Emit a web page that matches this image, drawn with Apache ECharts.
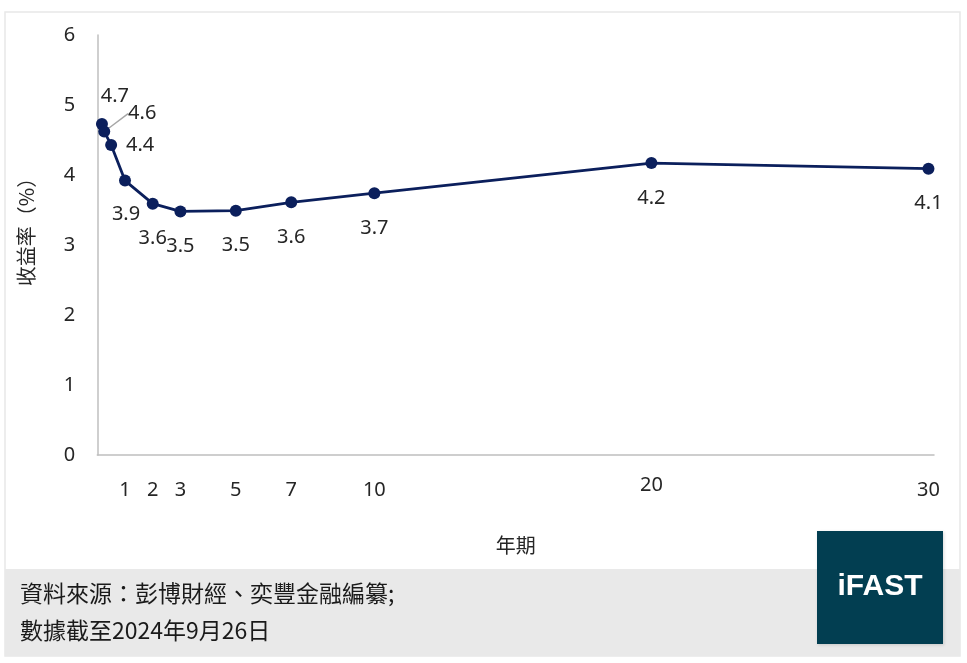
<!DOCTYPE html>
<html>
<head>
<meta charset="utf-8">
<script src="https://cdn.jsdelivr.net/npm/echarts@6/dist/echarts.min.js"></script>
<style>
html,body{margin:0;padding:0;background:#fff;}
#c{width:967px;height:663px;}
</style>
</head>
<body>
<div id="c"></div>
<script>
// Data
const tenors = [0.167, 0.25, 0.5, 1, 2, 3, 5, 7, 10, 20, 30];
const yields = [4.73, 4.62, 4.43, 3.92, 3.59, 3.48, 3.49, 3.61, 3.74, 4.17, 4.09];
const xTickLabels = [1, 2, 3, 5, 7, 10, 20, 30];
const yTicks = [0, 1, 2, 3, 4, 5, 6];
const yAxisTitle = '收益率（%）';
const xAxisTitle = '年期';
const footnote1 = '資料來源：彭博財經、奕豐金融編纂;';
const footnote2 = '數據截至2024年9月26日';
const logoText = 'iFAST';

const FONT = "'Noto Sans', 'Noto Sans CJK TC', sans-serif";
const CJK = "'Noto Sans CJK TC', 'Noto Sans', sans-serif";

// label offsets relative to each marker centre (style only)
const labelOffsets = [[13,-28],[38,-18],[29,0],[1,34],[0,35],[0,35],[0,35],[0,35],[0,35],[0,35],[0,35]];

const seriesData = tenors.map((t, i) => (
  i === 1 ? { value: [t, yields[i]], labelLine: { show: true } } : { value: [t, yields[i]] }
));

const chart = echarts.init(document.getElementById('c'));
chart.setOption({
  animation: false,
  backgroundColor: '#fff',
  grid: { left: 97.3, right: 33, top: 35, bottom: 208, containLabel: false },
  xAxis: {
    type: 'value', min: 0, max: 30.2,
    name: xAxisTitle, nameLocation: 'middle', nameGap: 80,
    nameTextStyle: { fontFamily: CJK, fontSize: 20, color: '#262626' },
    axisLine: { show: true, lineStyle: { color: '#bfbfbf', width: 1.5 } },
    axisTick: { show: false },
    splitLine: { show: false },
    axisLabel: {
      customValues: xTickLabels,
      margin: 20, fontFamily: FONT, fontSize: 20, color: '#262626',
      formatter: v => (v === 20 ? '{hi|' + v + '}' : '{n|' + v + '}'),
      rich: {
        n: { lineHeight: 30, fontFamily: FONT, fontSize: 20, color: '#262626' },
        hi: { lineHeight: 20, fontFamily: FONT, fontSize: 20, color: '#262626' }
      }
    }
  },
  yAxis: {
    type: 'value', min: 0, max: 6, interval: 1,
    name: yAxisTitle, nameLocation: 'middle', nameGap: 61, nameRotate: 90,
    nameTextStyle: { fontFamily: CJK, fontSize: 20, color: '#262626', padding: [0, 0, 0, 36] },
    axisLine: { show: true, lineStyle: { color: '#bfbfbf', width: 1.5 } },
    axisTick: { show: false },
    splitLine: { show: false },
    axisLabel: { margin: 22, fontFamily: FONT, fontSize: 20, color: '#262626' }
  },
  series: [{
    type: 'line',
    data: seriesData,
    symbol: 'circle', symbolSize: 12,
    itemStyle: { color: '#0b1f5c' },
    lineStyle: { color: '#0b1f5c', width: 2.8 },
    label: {
      show: true, position: 'inside', color: '#262626',
      fontFamily: FONT, fontSize: 20,
      formatter: p => p.value[1].toFixed(1)
    },
    labelLine: { show: false, lineStyle: { color: '#a6a6a6', width: 1.5 } },
    labelLayout: p => ({ dx: labelOffsets[p.dataIndex][0], dy: labelOffsets[p.dataIndex][1] })
  }],
  graphic: [
    { type: 'rect', z: -10, silent: true, shape: { x: 5, y: 12, width: 955, height: 644 },
      style: { fill: '#fff', stroke: '#e8e8e8', lineWidth: 1.5 } },
    { type: 'rect', z: -9, silent: true, shape: { x: 5, y: 569, width: 955, height: 87 },
      style: { fill: '#e9e9e9' } },
    { type: 'text', left: 20, top: 582, silent: true,
      style: { text: footnote1, font: "23px " + CJK, fill: '#1a1a1a' } },
    { type: 'text', left: 20, top: 619, silent: true,
      style: { text: footnote2, font: "23px " + CJK, fill: '#1a1a1a' } },
    { type: 'rect', silent: true, shape: { x: 817, y: 531, width: 126, height: 113 },
      style: { fill: '#023e51', shadowBlur: 3, shadowColor: 'rgba(0,0,0,0.15)', shadowOffsetX: 1, shadowOffsetY: 1 } },
    { type: 'text', x: 880, y: 587, silent: true,
      style: { text: logoText, font: "bold 30px 'Liberation Sans', Arial, sans-serif", fill: '#fff', align: 'center', verticalAlign: 'middle' } }
  ]
});
</script>
</body>
</html>
